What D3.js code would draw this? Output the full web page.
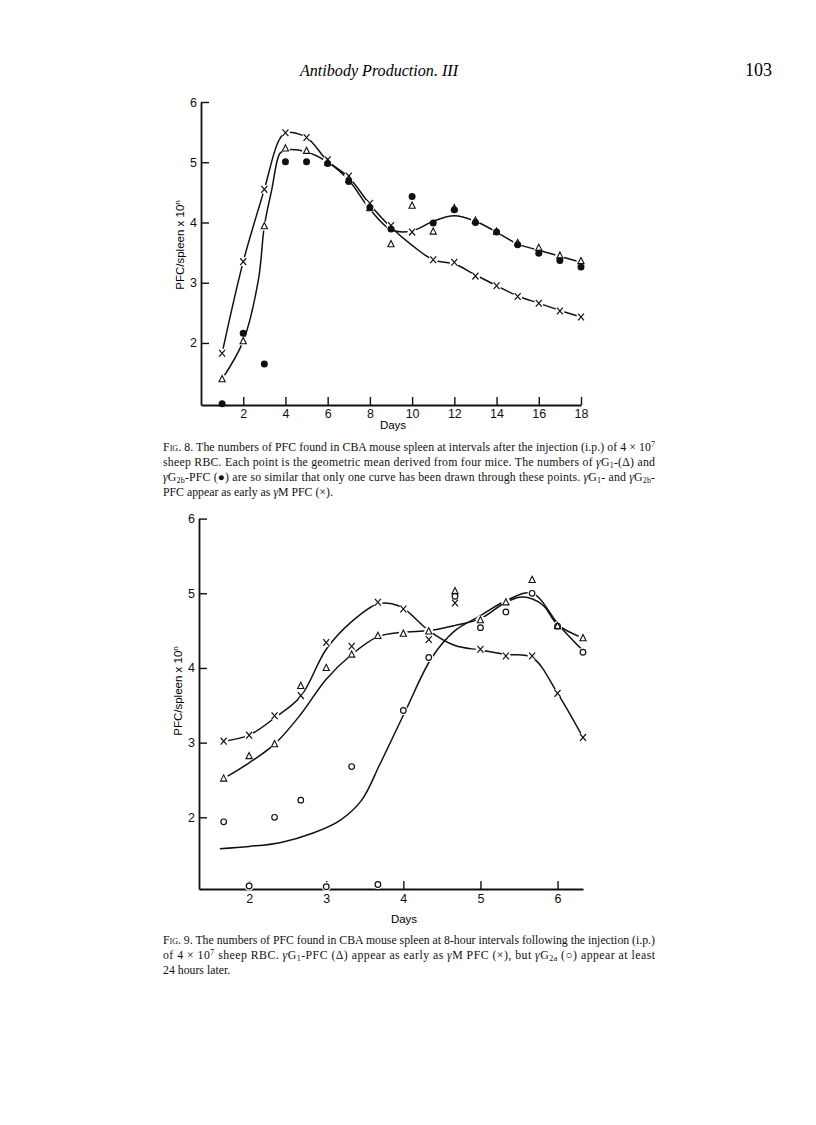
<!DOCTYPE html>
<html>
<head>
<meta charset="utf-8">
<script src="https://cdn.jsdelivr.net/npm/d3@7"></script>
<style>
  body { margin: 0; background: #fff; }
  .axis path, .axis line { stroke: #111; }
  .axis path { stroke-width: 1.8; }
  .axis line { stroke-width: 1.4; }
  .axis text { font-family: "Liberation Sans", Arial, sans-serif; font-size: 12.5px; fill: #111; }
  .curve { fill: none; stroke: #111; stroke-width: 1.5; }
  .caption { font-family: "Liberation Serif", "Times New Roman", serif; font-size: 11.8px; fill: #111; }
</style>
</head>
<body>
<div id="page"></div>
<script>
// ---- Fig. 8 data (log10 PFC per spleen, by day) ----
const days8 = [1, 2, 3, 4, 5, 6, 7, 8, 9, 10, 11, 12, 13, 14, 15, 16, 17, 18];
const gM8   = [1.83, 3.35, 4.55, 5.49, 5.41, 5.04, 4.77, 4.32, 3.95, 3.84, 3.38, 3.34, 3.11, 2.95, 2.77, 2.66, 2.53, 2.43];
const gG1_8 = [1.40, 2.03, 3.94, 5.23, 5.19, 5.00, 4.71, 4.24, 3.64, 4.28, 3.85, 4.24, 4.03, 3.85, 3.66, 3.58, 3.45, 3.36];
const gG2b8 = [0.99, 2.16, 1.65, 5.01, 5.01, 4.98, 4.68, 4.25, 3.89, 4.43, 3.99, 4.21, 4.00, 3.84, 3.63, 3.49, 3.37, 3.26];

// hand-drawn curves of fig. 8
const curveM8Days = [1, 2, 3, 3.66, 4, 5, 6, 7, 8, 9, 10, 11, 12, 13, 14, 15, 16, 17, 18];
const curveM8Vals = [1.83, 3.35, 4.55, 5.34, 5.49, 5.41, 5.02, 4.75, 4.30, 3.92, 3.62, 3.38, 3.31, 3.13, 2.95, 2.78, 2.66, 2.54, 2.43];
const curveG8Days = [1, 2, 2.72, 3, 3.35, 3.74, 4, 5, 6, 7, 8, 9, 10, 11, 12, 13, 14, 15, 16, 17, 18];
const curveG8Vals = [1.40, 2.03, 3.05, 3.94, 4.54, 5.15, 5.20, 5.17, 5.00, 4.70, 4.22, 3.88, 3.86, 4.02, 4.11, 4.02, 3.84, 3.64, 3.54, 3.44, 3.34];

// ---- Fig. 9 data (8-hour intervals) ----
const days9 = [1.67, 2.0, 2.33, 2.67, 3.0, 3.33, 3.67, 4.0, 4.33, 4.67, 5.0, 5.33, 5.67, 6.0, 6.33];
const gM9   = [3.02, 3.10, 3.36, 3.63, 4.34, 4.29, 4.88, 4.79, 4.38, 4.87, 4.25, 4.16, 4.16, 3.66, 3.07];
const gG1_9 = [2.52, 2.82, 2.98, 3.76, 4.00, 4.18, 4.43, 4.46, 4.49, 5.03, 4.64, 4.88, 5.18, 4.56, 4.40];
const gG2a9 = [1.94, 1.08, 2.00, 2.23, 1.07, 2.68, 1.10, 3.43, 4.14, 4.96, 4.54, 4.75, 5.00, 4.56, 4.21];

const curveM9Days = [1.67, 2.0, 2.33, 2.67, 3.0, 3.33, 3.67, 3.85, 4.0, 4.33, 4.67, 5.0, 5.33, 5.67, 6.0, 6.33];
const curveM9Vals = [3.02, 3.10, 3.33, 3.62, 4.25, 4.62, 4.86, 4.86, 4.80, 4.50, 4.30, 4.24, 4.18, 4.14, 3.66, 3.07];
const curveG1_9Days = [1.67, 2.0, 2.33, 2.67, 3.0, 3.33, 3.67, 4.0, 4.33, 4.67, 5.0, 5.33, 5.55, 5.8, 6.0, 6.33];
const curveG1_9Vals = [2.52, 2.73, 2.98, 3.38, 3.85, 4.18, 4.42, 4.48, 4.50, 4.57, 4.66, 4.88, 4.95, 4.85, 4.58, 4.40];
const curveG2a9Days = [1.62, 2.0, 2.4, 2.83, 3.18, 3.46, 3.70, 4.03, 4.37, 4.67, 5.0, 5.33, 5.67, 6.02, 6.35];
const curveG2a9Vals = [1.58, 1.61, 1.66, 1.79, 1.96, 2.23, 2.72, 3.43, 4.14, 4.50, 4.70, 4.90, 5.00, 4.57, 4.21];

// ticks
const xTicks8 = [2, 4, 6, 8, 10, 12, 14, 16, 18];
const xTicks9 = [2, 3, 4, 5, 6];
const yTicks = [2, 3, 4, 5, 6];

const W = 816, H = 1125;

const svg = d3.select("#page")
    .append("svg")
    .attr("width", W)
    .attr("height", H)
    .style("display", "block");

svg.append("rect").attr("width", W).attr("height", H).attr("fill", "#fff");

// running head
svg.append("text")
    .attr("x", 300)
    .attr("y", 76)
    .attr("textLength", 158)
    .attr("lengthAdjust", "spacingAndGlyphs")
    .style("font-family", "'Liberation Serif', serif")
    .style("font-style", "italic")
    .style("font-size", "17.5px")
    .text("Antibody Production. III");

svg.append("text")
    .attr("x", 772)
    .attr("y", 76)
    .attr("text-anchor", "end")
    .style("font-family", "'Liberation Serif', serif")
    .style("font-size", "18px")
    .text("103");

// marker shapes
const symX = "M-3,-3.4L3,3.4M3,-3.4L-3,3.4";
const symTri = "M0,-3.6L3.1,2.6L-3.1,2.6Z";

function drawPanel(opt) {
    const x = d3.scaleLinear().domain(opt.xDomain).range(opt.xRange);
    const y = d3.scaleLinear().domain(opt.yDomain).range(opt.yRange);
    const g = svg.append("g");

    // axes, ticks pointing inward
    g.append("g")
        .attr("class", "axis")
        .attr("transform", "translate(0," + opt.yRange[0] + ")")
        .call(d3.axisBottom(x).tickValues(opt.xTicks).tickFormat(d3.format("d"))
            .tickSize(-8).tickSizeOuter(0).tickPadding(opt.xPad))
        .selectAll("text").attr("dy", "0.75em");

    g.append("g")
        .attr("class", "axis")
        .attr("transform", "translate(" + opt.xRange[0] + ",0)")
        .call(d3.axisLeft(y).tickValues(yTicks).tickFormat(d3.format("d"))
            .tickSize(-8).tickSizeOuter(0).tickPadding(4));

    // y label
    const yl = g.append("text")
        .attr("transform", "translate(" + opt.yLabel[0] + "," + opt.yLabel[1] + ") rotate(-90)")
        .attr("text-anchor", "middle")
        .style("font-family", "'Liberation Sans', sans-serif")
        .style("font-size", "11.5px");
    yl.append("tspan").text("PFC/spleen x 10");
    yl.append("tspan").attr("baseline-shift", "super").style("font-size", "8px").text("n");

    // x label
    g.append("text")
        .attr("x", opt.daysLabel[0])
        .attr("y", opt.daysLabel[1])
        .attr("text-anchor", "middle")
        .style("font-family", "'Liberation Sans', sans-serif")
        .style("font-size", "11.5px")
        .text("Days");

    // curves
    const line = d3.line()
        .x(d => x(d[0]))
        .y(d => y(d[1]))
        .curve(d3.curveCatmullRom.alpha(0.5));

    opt.curves.forEach(c => {
        g.append("path")
            .attr("class", "curve")
            .attr("d", line(d3.zip(c[0], c[1])));
    });

    // white halos break the curves around the markers
    opt.series.forEach(s => {
        if (s.shape === "dot") return;
        g.selectAll(null)
            .data(d3.zip(s.days, s.vals))
            .enter().append("circle")
            .attr("cx", d => x(d[0]))
            .attr("cy", d => y(d[1]))
            .attr("r", 4.6)
            .attr("fill", "#fff");
    });

    opt.series.forEach(s => {
        const pts = d3.zip(s.days, s.vals);
        if (s.shape === "dot" || s.shape === "ring") {
            g.selectAll(null)
                .data(pts)
                .enter().append("circle")
                .attr("cx", d => x(d[0]))
                .attr("cy", d => y(d[1]))
                .attr("r", s.shape === "dot" ? 3.5 : 2.8)
                .attr("fill", s.shape === "dot" ? "#111" : "#fff")
                .attr("stroke", "#111")
                .attr("stroke-width", s.shape === "dot" ? 0 : 1.2);
        } else {
            g.selectAll(null)
                .data(pts)
                .enter().append("path")
                .attr("transform", d => "translate(" + x(d[0]) + "," + y(d[1]) + ")")
                .attr("d", s.shape === "x" ? symX : symTri)
                .attr("fill", "none")
                .attr("stroke", "#111")
                .attr("stroke-width", s.shape === "x" ? 1.2 : 1.1);
        }
    });
}

drawPanel({
    xDomain: [0, 18], xRange: [201, 581],
    yDomain: [0.97, 6], yRange: [405, 102],
    xTicks: xTicks8, xPad: 4,
    yLabel: [184, 245], daysLabel: [393, 429],
    curves: [[curveM8Days, curveM8Vals], [curveG8Days, curveG8Vals]],
    series: [
        { days: days8, vals: gG2b8, shape: "dot" },
        { days: days8, vals: gG1_8, shape: "tri" },
        { days: days8, vals: gM8, shape: "x" }
    ]
});

drawPanel({
    xDomain: [1.35, 6.33], xRange: [199, 583],
    yDomain: [1.04, 6], yRange: [889, 518.6],
    xTicks: xTicks9, xPad: 5,
    yLabel: [182, 691], daysLabel: [404, 923],
    curves: [[curveM9Days, curveM9Vals], [curveG1_9Days, curveG1_9Vals], [curveG2a9Days, curveG2a9Vals]],
    series: [
        { days: days9, vals: gG2a9, shape: "ring" },
        { days: days9, vals: gG1_9, shape: "tri" },
        { days: days9, vals: gM9, shape: "x" }
    ]
});

// captions: each line is a list of [text, style] pieces
const caption8 = [
    [["Fig. 8.", "sc"], [" The numbers of PFC found in CBA mouse spleen at intervals after the injection (i.p.) of 4 × 10", ""], ["7", "sup"]],
    [["sheep RBC. Each point is the geometric mean derived from four mice. The numbers of ", ""], ["γ", "i"], ["G", ""], ["1", "sub"], ["-(Δ) and", ""]],
    [["γ", "i"], ["G", ""], ["2b", "sub"], ["-PFC (●) are so similar that only one curve has been drawn through these points. ", ""], ["γ", "i"], ["G", ""], ["1", "sub"], ["- and ", ""], ["γ", "i"], ["G", ""], ["2b", "sub"], ["-", ""]],
    [["PFC appear as early as ", ""], ["γ", "i"], ["M PFC (×).", ""]]
];
const caption9 = [
    [["Fig. 9.", "sc"], [" The numbers of PFC found in CBA mouse spleen at 8-hour intervals following the injection (i.p.)", ""]],
    [["of 4 × 10", ""], ["7", "sup"], [" sheep RBC. ", ""], ["γ", "i"], ["G", ""], ["1", "sub"], ["-PFC (Δ) appear as early as ", ""], ["γ", "i"], ["M PFC (×), but ", ""], ["γ", "i"], ["G", ""], ["2a", "sub"], [" (○) appear at least", ""]],
    [["24 hours later.", ""]]
];

function drawCaption(lines, x0, y0, width) {
    lines.forEach((pieces, i) => {
        const t = svg.append("text")
            .attr("class", "caption")
            .attr("x", x0)
            .attr("y", y0 + i * 15);
        if (i < lines.length - 1) {
            t.attr("textLength", width).attr("lengthAdjust", "spacing");
        }
        pieces.forEach(p => {
            const ts = t.append("tspan").text(p[0]);
            if (p[1] === "sc") ts.style("font-variant", "small-caps");
            if (p[1] === "i") ts.style("font-style", "italic");
            if (p[1] === "sub") ts.attr("baseline-shift", "-25%").style("font-size", "8px");
            if (p[1] === "sup") ts.attr("baseline-shift", "super").style("font-size", "8px");
        });
    });
}

drawCaption(caption8, 163, 451, 492);
drawCaption(caption9, 163, 944, 492);
</script>
</body>
</html>
